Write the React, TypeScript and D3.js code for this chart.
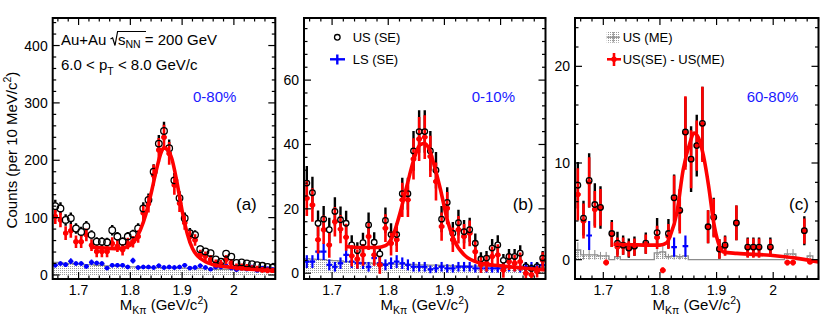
import React from 'react';
import * as d3 from 'd3';

const FONT = "'Liberation Sans', Arial, Helvetica, sans-serif";

const binCenters = [1.655,1.665,1.675,1.685,1.695,1.705,1.715,1.725,1.735,1.745,1.755,1.765,1.775,1.785,1.795,1.805,1.815,1.825,1.835,1.845,1.855,1.865,1.875,1.885,1.895,1.905,1.915,1.925,1.935,1.945,1.955,1.965,1.975,1.985,1.995,2.005,2.015,2.025,2.035,2.045,2.055,2.065,2.075];
const xMajorTicks = [1.7, 1.8, 1.9, 2.0];
const xTickLabels = ['1.7', '1.8', '1.9', '2'];

// Panel (a) 0-80%
const aUS = [120,116,96,99,81,75,85,70,58,58,57,78,67,58,67,71,81,116,131,180,229,251,221,165,134,99,73,70,45,41,38,27,23,37,32,21,22,20,19,17,16,14,13];
const aUSErr = [11,11,10,10,9,9,9,8,8,8,8,9,8,8,8,8,9,11,11,13,15,16,15,13,12,10,9,8,7,6,6,5,5,6,6,5,5,4,4,4,4,4,4];
const aRed = [102,96,73,77,58,58,70,52,41,41,41,55,50,44,55,58,67,108,124,174,218,240,212,157,125,91,67,61,35,33,27,20,19,27,21,14,14,13,12,11,9,8,8];
const aRedErr = [13,13,12,12,11,11,11,10,10,10,10,11,10,10,10,10,11,14,15,18,21,22,20,17,15,12,11,10,9,8,8,7,7,8,7,6,6,6,5,5,5,5,4];
const aLS = [17,20,18,24,20,20,15,22,21,20,12,17,17,17,14,25,13,14,14,13,16,13,14,13,14,17,12,13,16,13,10,14,14,16,12,9,12,10,14,8,12,11,10];
const aLSErr = [4,4,4,5,4,4,4,5,4,4,3,4,4,4,4,5,4,4,4,4,4,4,4,4,4,4,3,4,4,4,3,4,4,4,3,3,3,3,4,3,3,3,3];
const aME = [22,21,20,20,19,19,18,18,17,17,16,16,15,15,14,14,14,13,13,13,13,12,12,12,12,12,11,11,11,11,11,10,10,10,10,10,9,9,9,9,8,8,8];
const aFitX = [1.722,1.75,1.775,1.79,1.80,1.81,1.82,1.83,1.84,1.85,1.86,1.865,1.87,1.88,1.89,1.90,1.91,1.92,1.93,1.94,1.95,1.96,1.98,2.00,2.02,2.04,2.06,2.08];
const aFitY = [49,47,46,48,52,62,80,106,142,182,215,222,220,203,162,112,72,46,33,26,21,18,15,13,11,9.5,8.5,7.5];

// Panel (b) 0-10%
const bUS = [28,25,15.5,16.8,13.5,19.2,16.6,15.5,8.8,7,9.5,15,9.6,6,16.4,12,12,24.7,24.7,38,44,44,38,32,16.8,22,12.4,15.7,12.9,13.5,9.3,4.4,4.7,7.8,8.8,4,5.2,5.2,6.2,2,1.5,2,4.7];
const bUSErr = [5.3,5,4,4.1,3.7,4.4,4.1,3.9,3,2.6,3.1,3.9,3.1,2.4,4,3.5,3.5,5,5,6.2,6.6,6.6,6.2,5.7,4.1,4.7,3.5,4,3.6,3.7,3,2.1,2.2,2.8,3,2,2.3,2.3,2.5,1.4,1.2,1.4,2.2];
const bRed = [23.3,21.2,10.4,13.5,8.8,16,13.7,11.2,5.4,4.4,5.7,11.4,5.7,2.6,14,9.3,10.4,22.8,22.8,35.5,41.7,42.3,36.3,28.5,14.5,20.2,10.4,13.5,11.4,12.4,6.7,2.6,3.1,5.2,5.7,1,3.6,3.1,3.6,0,-0.5,0.5,4];
const bRedErr = [5.5,5.2,4.3,4.4,4,4.6,4.4,4.2,3.3,3,3.4,4.2,3.4,2.8,4.3,3.8,3.8,5.3,5.3,6.4,6.8,6.8,6.4,5.9,4.4,5,3.8,4.3,3.9,4,3.3,2.5,2.6,3.1,3.3,2.4,2.6,2.6,2.8,1.8,1.6,1.8,2.5];
const bLS = [3.6,3.6,6.7,6.7,2.6,2,3.1,5.7,3.6,3.1,3.1,2,4.7,3.1,2.6,3.1,3.6,3.1,2.6,2,2,2,1.2,1.5,2,1.5,1.5,2,2,2,1.5,1.5,1.5,1.5,1.5,1.5,2,2,1.5,2,2,2,2.5];
const bLSErr = [2,2,2.6,2.6,1.7,1.5,1.8,2.4,2,1.8,1.8,1.5,2.2,1.8,1.7,1.8,2,1.8,1.7,1.5,1.5,1.5,1.2,1.3,1.5,1.3,1.3,1.5,1.5,1.5,1.3,1.3,1.3,1.3,1.3,1.3,1.5,1.5,1.3,1.5,1.5,1.5,1.6];
const bME = [4.5,4.4,4.3,4.2,4.0,3.9,3.8,3.6,3.5,3.4,3.3,3.2,3.1,3.0,3.0,2.9,2.8,2.8,2.7,2.7,2.6,2.6,2.5,2.5,2.4,2.4,2.3,2.3,2.3,2.2,2.2,2.1,2.1,2.1,2.0,2.0,2.0,1.9,1.9,1.9,1.8,1.8,1.8];
const bFitX = [1.725,1.75,1.78,1.795,1.81,1.821,1.833,1.845,1.857,1.865,1.873,1.881,1.893,1.905,1.917,1.935,1.964,2.0,2.04,2.08];
const bFitY = [8.3,8.0,8.0,8.6,12.4,18.7,27,35,40,40.3,38.5,34,26,16.6,10.4,5.7,3.1,2.3,1.6,1.0];

// Panel (c) 60-80%
const cUS = [7.7,4.3,8.2,5.7,5.4,null,2.7,1.7,1.5,1.2,1.4,null,1.7,null,2.8,null,2.7,6.4,5.1,13.2,10.4,11.8,14.1,3.4,4.4,1.1,1.5,null,3.8,null,1.3,1.3,1.3,null,1.3,null,null,null,null,null,3.0,null,null];
const cUSErr = [2.4,1.8,2.8,2.2,2.2,null,1.4,1.2,1.0,1.0,1.0,null,1.1,null,1.5,null,1.5,2.4,2.1,3.6,3.4,3.2,3.8,1.7,2.0,1.0,1.0,null,1.8,null,1.0,1.0,1.0,null,1.0,null,null,null,null,null,1.5,null,null];
const cRed = [6.75,4.0,8.0,5.2,5.4,-0.3,2.6,1.3,1.4,1.1,1.3,null,1.6,null,2.3,-1.1,2.4,6.3,5.0,13.1,10.4,11.8,14.0,3.4,4.3,1.1,1.4,null,3.8,null,1.2,1.2,1.2,null,1.2,null,null,-0.3,-0.3,null,2.95,-0.25,null];
const cRedErr = [2.7,1.8,2.6,1.9,1.9,0.3,1.3,1.0,0.9,0.8,0.9,null,1.0,null,1.2,0.3,1.3,2.4,2.3,3.8,3.0,2.6,3.9,1.7,2.0,1.0,1.0,null,1.8,null,1.0,1.0,1.0,null,0.9,null,null,0.3,0.3,null,1.3,0.2,null];
const cLS = [null,null,2.5,null,null,null,null,1.6,null,null,null,null,null,null,null,null,null,1.3,null,1.4,null,null,null,null,null,null,null,null,null,null,null,null,null,null,null,null,null,null,null,null,null,null,null];
const cLSErr = [null,null,1.5,null,null,null,null,0.6,null,null,null,null,null,null,null,null,null,1.0,null,1.1,null,null,null,null,null,null,null,null,null,null,null,null,null,null,null,null,null,null,null,null,null,null,null];
const cME = [1.0,0.5,0.5,0.5,0.4,0.4,0,0.3,0,0,0,0,0,0,0.7,0.8,0.3,0.4,0.3,0.4,0,0,0,0,0,0,0,0,0,0,0,0,0,0,0,0,0,0.6,0.6,0,0,0.4,0];
const cMEErr = [0.8,0.5,0.5,0.5,0.4,0.4,0,0.3,0,0,0,0,0,0,0.6,0.7,0.3,0.4,0.3,0.4,0,0,0,0,0,0,0,0,0,0,0,0,0,0,0,0,0,0.5,0.5,0,0,0.4,0];
const cFitX = [1.718,1.75,1.78,1.80,1.812,1.818,1.83,1.841,1.853,1.86,1.868,1.877,1.886,1.895,1.903,1.912,1.936,1.995,2.054,2.08];
const cFitY = [1.6,1.55,1.5,1.5,1.75,2.45,4.9,9.3,12.1,13.1,12.6,10.7,7.6,3.8,1.75,0.8,0.65,0.45,0.03,-0.25];

type V = number | null;
type Cfg = {
  id: string;
  left: number; right: number; top: number; bottom: number;
  yDomain: [number, number]; yMajor: number[]; yMinorStep: number;
  us: V[]; usErr: V[]; red: V[]; redErr: V[]; ls: V[]; lsErr: V[];
  me: number[]; meErr?: number[];
  fitX: number[]; fitY: number[];
  cent: string; centX: number; tag: string; tagX: number;
  usR: number; lsStyle: 'dot' | 'cross' | 'bar';
};

const panels: Cfg[] = [
  { id: 'a', left: 52.7, right: 275.3, top: 18, bottom: 279, yDomain: [-7, 448], yMajor: [0, 100, 200, 300, 400], yMinorStep: 20,
    us: aUS, usErr: aUSErr, red: aRed, redErr: aRedErr, ls: aLS, lsErr: aLSErr, me: aME,
    fitX: aFitX, fitY: aFitY, cent: '0-80%', centX: 193, tag: '(a)', tagX: 236, usR: 3.3, lsStyle: 'dot' },
  { id: 'b', left: 304, right: 545.5, top: 18, bottom: 279, yDomain: [-1.8, 79.3], yMajor: [0, 20, 40, 60], yMinorStep: 4,
    us: bUS, usErr: bUSErr, red: bRed, redErr: bRedErr, ls: bLS, lsErr: bLSErr, me: bME,
    fitX: bFitX, fitY: bFitY, cent: '0-10%', centX: 471.7, tag: '(b)', tagX: 512.7, usR: 2.8, lsStyle: 'cross' },
  { id: 'c', left: 575, right: 818.5, top: 18, bottom: 279, yDomain: [-2, 25], yMajor: [0, 10, 20], yMinorStep: 2,
    us: cUS, usErr: cUSErr, red: cRed, redErr: cRedErr, ls: cLS, lsErr: cLSErr, me: cME, meErr: cMEErr,
    fitX: cFitX, fitY: cFitY, cent: '60-80%', centX: 746.7, tag: '(c)', tagX: 789, usR: 2.8, lsStyle: 'bar' },
];

const HB = 0.005;

function Panel({ cfg }: { cfg: Cfg }) {
  const x = d3.scaleLinear().domain([1.65, 2.08]).range([cfg.left, cfg.right]);
  const y = d3.scaleLinear().domain(cfg.yDomain).range([cfg.bottom, cfg.top]);
  const clip = `clip-${cfg.id}`;

  // ME histogram outline
  const mePts: [number, number][] = [];
  binCenters.forEach((c, i) => {
    mePts.push([x(c - HB), y(cfg.me[i])]);
    mePts.push([x(c + HB), y(cfg.me[i])]);
  });
  const meLine = d3.line()(mePts) || '';
  const meArea = d3.area<[number, number]>().x(d => d[0]).y0(y(0)).y1(d => d[1])(mePts) || '';

  const fitPath = d3.line<number>().x((_, i) => x(cfg.fitX[i])).y(d => y(d)).curve(d3.curveMonotoneX)(cfg.fitY) || '';

  const xMinor = d3.range(1.66, 2.0801, 0.02).filter(v => !xMajorTicks.some(m => Math.abs(m - v) < 1e-6));
  const [y0, y1] = cfg.yDomain;
  const yMinor = d3.range(Math.ceil(y0 / cfg.yMinorStep) * cfg.yMinorStep, y1, cfg.yMinorStep)
    .filter(v => !cfg.yMajor.includes(Math.round(v * 1000) / 1000));

  const majL = 7, minL = 3.5;
  const red = '#ff0000', blue = '#0000ff';

  return (
    <g>
      <defs>
        <clipPath id={clip}>
          <rect x={cfg.left} y={cfg.top} width={cfg.right - cfg.left} height={cfg.bottom - cfg.top} />
        </clipPath>
      </defs>
      <g clipPath={`url(#${clip})`}>
        <path d={meArea} fill="url(#dots)" stroke="none" />
        <path d={meLine} fill="none" stroke="#8c8c8c" strokeWidth={1.3} />
        {cfg.meErr && binCenters.map((c, i) => cfg.meErr![i] > 0 ? (
          <line key={'me' + i} x1={x(c)} x2={x(c)} y1={y(cfg.me[i] - cfg.meErr![i])} y2={y(cfg.me[i] + cfg.meErr![i])} stroke="#8c8c8c" strokeWidth={1} />
        ) : null)}
        {/* LS points */}
        {binCenters.map((c, i) => {
          const v = cfg.ls[i]; const e = cfg.lsErr[i];
          if (v == null || e == null) return null;
          const sw = cfg.lsStyle === 'dot' ? 1.6 : 2.2;
          return (
            <g key={'ls' + i}>
              <line x1={x(c)} x2={x(c)} y1={y(v - e)} y2={y(v + e)} stroke={blue} strokeWidth={sw} />
              <line x1={x(c - HB)} x2={x(c + HB)} y1={y(v)} y2={y(v)} stroke={blue} strokeWidth={sw} />
              {cfg.lsStyle === 'dot' && <circle cx={x(c)} cy={y(v)} r={2.3} fill={blue} />}
            </g>
          );
        })}
        {/* US error bars */}
        {binCenters.map((c, i) => {
          const v = cfg.us[i]; const e = cfg.usErr[i];
          if (v == null || e == null) return null;
          const yc = y(v), yt = y(v + e), yb = y(v - e), r = cfg.usR;
          return (
            <g key={'ue' + i}>
              {yc - r > yt && <line x1={x(c)} x2={x(c)} y1={yt} y2={yc - r} stroke="#000" strokeWidth={2.4} />}
              {yb > yc + r && <line x1={x(c)} x2={x(c)} y1={yc + r} y2={yb} stroke="#000" strokeWidth={2.4} />}
            </g>
          );
        })}
        {/* Red points */}
        {binCenters.map((c, i) => {
          const v = cfg.red[i]; const e = cfg.redErr[i];
          if (v == null || e == null) return null;
          return (
            <g key={'r' + i}>
              <line x1={x(c)} x2={x(c)} y1={y(v - e)} y2={y(v + e)} stroke={red} strokeWidth={2.6} />
              <line x1={x(c - HB)} x2={x(c + HB)} y1={y(v)} y2={y(v)} stroke={red} strokeWidth={2.4} />
              <circle cx={x(c)} cy={y(v)} r={2.7} fill={red} />
            </g>
          );
        })}
        {/* US markers */}
        {binCenters.map((c, i) => {
          const v = cfg.us[i];
          if (v == null) return null;
          return <circle key={'um' + i} cx={x(c)} cy={y(v)} r={cfg.usR} fill="none" stroke="#000" strokeWidth={1.3} />;
        })}
        <path d={fitPath} fill="none" stroke={red} strokeWidth={3.6} strokeLinejoin="round" />
      </g>

      {/* ticks */}
      {xMajorTicks.map(t => (
        <g key={'xt' + t}>
          <line x1={x(t)} x2={x(t)} y1={cfg.bottom} y2={cfg.bottom - majL} stroke="#000" strokeWidth={1.2} />
          <line x1={x(t)} x2={x(t)} y1={cfg.top} y2={cfg.top + majL} stroke="#000" strokeWidth={1.2} />
        </g>
      ))}
      {xMinor.map(t => (
        <g key={'xm' + t}>
          <line x1={x(t)} x2={x(t)} y1={cfg.bottom} y2={cfg.bottom - minL} stroke="#000" strokeWidth={1.2} />
          <line x1={x(t)} x2={x(t)} y1={cfg.top} y2={cfg.top + minL} stroke="#000" strokeWidth={1.2} />
        </g>
      ))}
      {cfg.yMajor.map(t => (
        <g key={'yt' + t}>
          <line x1={cfg.left} x2={cfg.left + majL} y1={y(t)} y2={y(t)} stroke="#000" strokeWidth={1.2} />
          <line x1={cfg.right} x2={cfg.right - majL} y1={y(t)} y2={y(t)} stroke="#000" strokeWidth={1.2} />
        </g>
      ))}
      {yMinor.map(t => (
        <g key={'ym' + t}>
          <line x1={cfg.left} x2={cfg.left + minL} y1={y(t)} y2={y(t)} stroke="#000" strokeWidth={1.2} />
          <line x1={cfg.right} x2={cfg.right - minL} y1={y(t)} y2={y(t)} stroke="#000" strokeWidth={1.2} />
        </g>
      ))}
      <rect x={cfg.left} y={cfg.top} width={cfg.right - cfg.left} height={cfg.bottom - cfg.top} fill="none" stroke="#000" strokeWidth={2} />

      {/* tick labels */}
      {xMajorTicks.map((t, i) => (
        <text key={'xl' + t} x={x(t)} y={294.5} textAnchor="middle" fontSize={14} fontFamily={FONT}>{xTickLabels[i]}</text>
      ))}
      {cfg.yMajor.map(t => (
        <text key={'yl' + t} x={cfg.left - 5} y={y(t) + 5} textAnchor="end" fontSize={14} fontFamily={FONT}>{String(t)}</text>
      ))}

      {/* axis title */}
      <text x={(cfg.left + cfg.right) / 2} y={310} textAnchor="middle" fontSize={15} fontFamily={FONT}>
        M<tspan fontSize={10.5} dy={3.5}>Kπ</tspan><tspan dy={-3.5}> (GeV/c</tspan><tspan fontSize={10.5} dy={-6}>2</tspan><tspan dy={6}>)</tspan>
      </text>

      <text x={cfg.centX} y={102} fontSize={15} fontFamily={FONT} fill="#1a1aff">{cfg.cent}</text>
      <text x={cfg.tagX} y={210} fontSize={17} fontFamily={FONT}>{cfg.tag}</text>
    </g>
  );
}

export default function App() {
  return (
    <svg width={830} height={321} style={{ position: 'absolute', left: 0, top: 0, background: '#fff' }}>
      <defs>
        <pattern id="dots" width={2} height={2} patternUnits="userSpaceOnUse">
          <rect width={1} height={1} fill="#9a9a9a" />
        </pattern>
      </defs>
      <rect x={0} y={0} width={830} height={321} fill="#fff" />
      {panels.map(p => <Panel key={p.id} cfg={p} />)}

      {/* y axis title */}
      <text transform="translate(16.5,150) rotate(-90)" textAnchor="middle" fontSize={15} fontFamily={FONT}>
        Counts (per 10 MeV/c<tspan fontSize={10.5} dy={-6}>2</tspan><tspan dy={6}>)</tspan>
      </text>

      {/* panel a annotations */}
      <text x={61} y={44.5} fontSize={15} fontFamily={FONT}>Au+Au</text>
      <path d="M110.5,39 L112.6,37.8 L115,45.5 L117.6,31.5 L146,31.5" fill="none" stroke="#000" strokeWidth={1.2} />
      <text x={118} y={44.5} fontSize={15} fontFamily={FONT}>
        s<tspan fontSize={10.5} dy={3.5}>NN</tspan><tspan dy={-3.5}> = 200 GeV</tspan>
      </text>
      <text x={61} y={70} fontSize={15} fontFamily={FONT}>
        6.0 &lt; p<tspan fontSize={10.5} dy={4.5}>T</tspan><tspan dy={-4.5}> &lt; 8.0 GeV/c</tspan>
      </text>

      {/* panel b legend */}
      <circle cx={337.3} cy={37.3} r={2.8} fill="none" stroke="#000" strokeWidth={1.3} />
      <text x={352.7} y={42} fontSize={13} fontFamily={FONT}>US (SE)</text>
      <line x1={330} x2={345} y1={59.3} y2={59.3} stroke="#0000ff" strokeWidth={2.4} />
      <line x1={337.3} x2={337.3} y1={54.5} y2={64.5} stroke="#0000ff" strokeWidth={2.4} />
      <text x={352.7} y={64} fontSize={13} fontFamily={FONT}>LS (SE)</text>

      {/* panel c legend */}
      <rect x={606.7} y={31.7} width={13.3} height={11} fill="url(#dots)" />
      <line x1={606.7} x2={620} y1={37.2} y2={37.2} stroke="#8c8c8c" strokeWidth={1.3} />
      <line x1={613.3} x2={613.3} y1={32} y2={42.5} stroke="#8c8c8c" strokeWidth={1} />
      <text x={622.7} y={42} fontSize={13} fontFamily={FONT}>US (ME)</text>
      <line x1={607} x2={621} y1={59.3} y2={59.3} stroke="#ff0000" strokeWidth={2.6} />
      <line x1={614} x2={614} y1={53} y2={66} stroke="#ff0000" strokeWidth={2.6} />
      <circle cx={614} cy={59.3} r={2.7} fill="#ff0000" />
      <text x={622.7} y={64} fontSize={13} fontFamily={FONT}>US(SE) - US(ME)</text>
    </svg>
  );
}
